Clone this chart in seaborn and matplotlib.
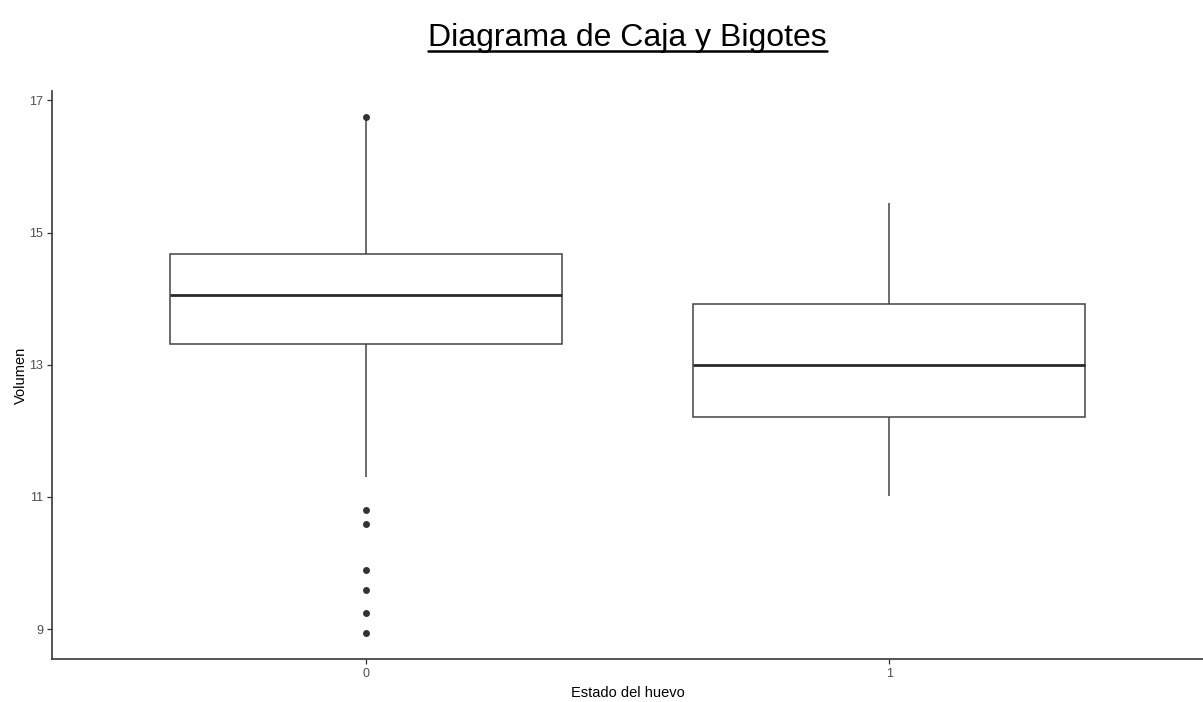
import matplotlib
matplotlib.use("Agg")
import matplotlib.pyplot as plt
from matplotlib.lines import Line2D
import seaborn as sns
import pandas as pd

# ---- data ----
estados = ["0", "1"]
# five-number summaries: lower whisker end, Q1, median, Q3, upper whisker end
caja_0 = [11.30, 13.32, 14.05, 14.68, 16.70]
caja_1 = [11.02, 12.21, 12.99, 13.92, 15.45]
# outlying points (group "0")
atipicos_0 = [8.94, 9.24, 9.60, 9.90, 10.59, 10.81, 16.75]
y_ticks = [9, 11, 13, 15, 17]

titulo = "Diagrama de Caja y Bigotes"
x_label = "Estado del huevo"
y_label = "Volumen"

df_box = pd.DataFrame({
    "estado": [estados[0]] * len(caja_0) + [estados[1]] * len(caja_1),
    "volumen": caja_0 + caja_1,
})
df_out = pd.DataFrame({"estado": [estados[0]] * len(atipicos_0),
                       "volumen": atipicos_0})

sns.set_style("ticks")
plt.rcParams["font.family"] = ["Liberation Sans", "DejaVu Sans"]

W, H = 1203, 702
fig = plt.figure(figsize=(W / 100, H / 100), dpi=100)
ax = fig.add_axes([52 / W, (H - 659) / H, 1 - 52 / W, (659 - 91) / H])

line_col = "#444444"
sns.boxplot(data=df_box, x="estado", y="volumen", order=estados, ax=ax,
            width=0.75, color="white", linecolor=line_col, linewidth=1.1,
            showcaps=False, whis=1.5,
            boxprops=dict(facecolor="white", edgecolor=line_col, linewidth=1.1),
            medianprops=dict(color="#2a2a2a", linewidth=2.0),
            whiskerprops=dict(color=line_col, linewidth=1.1))
sns.stripplot(data=df_out, x="estado", y="volumen", order=estados, ax=ax,
              jitter=False, color="#333333", size=5, linewidth=0)

ax.set_xlim(-0.6, 1.6)
ax.set_ylim(8.55, 17.14)
ax.set_yticks(y_ticks)
ax.set_yticklabels([str(t) for t in y_ticks])

for s in ["top", "right"]:
    ax.spines[s].set_visible(False)
for s in ["left", "bottom"]:
    ax.spines[s].set_color("#3a3a3a")
    ax.spines[s].set_linewidth(1.2)

ax.tick_params(axis="both", colors="#333333", length=3.5, width=0.9,
               labelsize=9, labelcolor="#4D4D4D", pad=3)
ax.set_xlabel(x_label, fontsize=10.5, color="black", labelpad=4)
ax.set_ylabel(y_label, fontsize=10.5, color="black", labelpad=1)

# underlined title
cx = (52 + W) / 2 / W
t = fig.text(cx, 1 - 46 / H, titulo, ha="center", va="baseline",
             fontsize=23, color="black")
fig.canvas.draw()
bb = t.get_window_extent(renderer=fig.canvas.get_renderer())
uy = 1 - 51 / H
fig.add_artist(Line2D([bb.x0 / W, bb.x1 / W], [uy, uy],
                      transform=fig.transFigure, color="black", linewidth=1.8))

fig.savefig("out.png", dpi=100)
